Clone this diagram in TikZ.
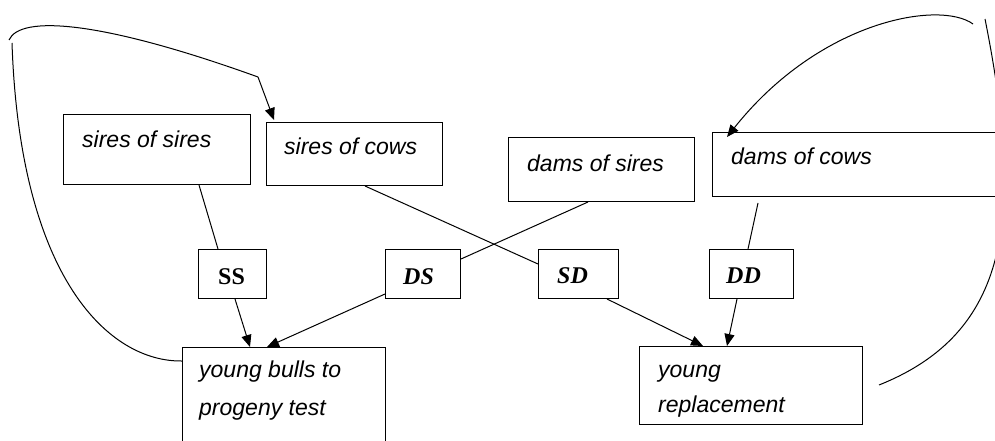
\documentclass[tikz,border=0pt]{standalone}
\usepackage{fontspec}
\setmainfont{Liberation Sans}
\newfontfamily\labfont{Liberation Serif}
\usetikzlibrary{arrows.meta}
\begin{document}
\begin{tikzpicture}[x=1pt,y=-1pt,
  box/.style={draw,line width=1pt,rectangle,inner sep=0pt,anchor=north west},
  txt/.style={anchor=base west,inner sep=0pt,font=\fontsize{23}{27}\selectfont\itshape},
  lab/.style={anchor=base west,inner sep=0pt,font=\fontsize{24}{28}\selectfont\labfont\bfseries},
  conn/.style={line width=1pt},
  arr/.style={line width=1pt,-{Triangle[length=12pt,width=10pt]}}]
\useasboundingbox (0,0) rectangle (995,441);
% boxes
\node[box,minimum width=187pt,minimum height=70pt] (sos) at (63,114) {};
\node[box,minimum width=176pt,minimum height=63pt] (soc) at (266,122) {};
\node[box,minimum width=186pt,minimum height=64pt] (dos) at (508,137) {};
\node[box,minimum width=290pt,minimum height=64pt] (doc) at (712,132) {};
\node[box,minimum width=68pt,minimum height=49pt] (ss) at (198,249) {};
\node[box,minimum width=75pt,minimum height=49pt] (ds) at (385,249) {};
\node[box,minimum width=80pt,minimum height=49pt] (sd) at (538,249) {};
\node[box,minimum width=84pt,minimum height=49pt] (dd) at (709,249) {};
\node[box,minimum width=203pt,minimum height=103pt] (yb) at (182,347) {};
\node[box,minimum width=223pt,minimum height=78pt] (yr) at (639,346) {};
% texts
\node[txt] (tsos) at (82,147) {sires of sires};
\node[txt] (tsoc) at (284,154) {sires of cows};
\node[txt] (tdos) at (527,171) {dams of sires};
\node[txt] (tdoc) at (731,164) {dams of cows};
\node[txt] (tyb1) at (199,377) {young bulls to};
\node[txt] (tyb2) at (199,415) {progeny test};
\node[txt] (tyr1) at (658,377) {young};
\node[txt] (tyr2) at (658,412) {replacement};
\node[lab] (tss) at (218,284) {SS};
\node[lab] (tds) at (403,284) {\itshape DS};
\node[lab] (tsd) at (557,283) {\itshape SD};
\node[lab] (tdd) at (726,283) {\itshape DD};
% connectors
\draw[conn] ([xshift=136pt]sos.south west) -- ([xshift=20pt]ss.north west);
\draw[arr] ([xshift=37pt]ss.south west) -- ([xshift=68pt]yb.north west);
\draw[arr] ([yshift=5pt]ds.south west) -- ([xshift=85pt]yb.north west);
\draw[conn] ([xshift=80pt]dos.south west) -- ([yshift=-10pt]ds.north east);
\draw[conn] ([xshift=99pt]soc.south west) -- ([yshift=-15pt]sd.north west);
\draw[arr] ([xshift=69pt]sd.south west) -- ([xshift=64pt]yr.north west);
\coordinate (ddtop) at ([xshift=46pt,yshift=-6pt]doc.south west);
\draw[conn] (ddtop) -- ([xshift=39pt]dd.north west);
\draw[arr] ([xshift=28pt]dd.south west) -- ([xshift=88pt]yr.north west);
% left loop
\coordinate (l1) at (12,43);
\coordinate (l2) at (9,40);
\coordinate (l3) at (258,77);
\draw[conn] ([yshift=-14pt]yb.north west) .. controls (110,362) and (20,280) .. (l1);
\draw[conn] (l2) .. controls (20,15) and (100,20) .. (l3);
\draw[arr] (l3) -- ([xshift=8pt,yshift=2pt]soc.north west);
% right loop
\coordinate (r0) at (879,385);
\coordinate (r1) at (985,19);
\coordinate (r2) at (973,24);
\draw[conn] (r0) .. controls (1009,333) and (1025,219) .. (r1);
\draw[arr] (r2) .. controls (940,0) and (820,20) .. ([xshift=15pt,yshift=-5pt]doc.north west);
\end{tikzpicture}
\end{document}
